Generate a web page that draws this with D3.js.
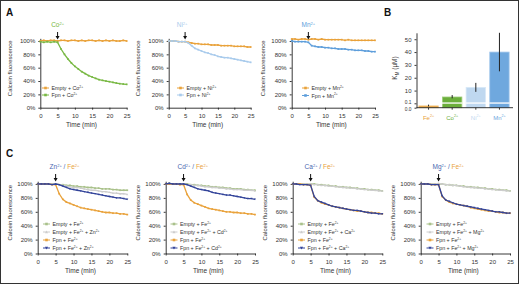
<!DOCTYPE html>
<html><head><meta charset="utf-8">
<script src="https://cdn.jsdelivr.net/npm/d3@7"></script>
<style>body{margin:0;background:#fff}svg{display:block}text{font-family:"Liberation Sans",Arial,sans-serif}</style>
</head><body><svg id="c" width="520" height="286"></svg>
<script>
// ---------- data ----------
const times = [0,1,2,3,4,5,6,7,8,9,10,11,12,13,14,15,16,17,18,19,20,21,22,23,24,25];
const xTicks = [0,5,10,15,20,25];
const yTicks = [0,20,40,60,80,100];

// Panel A
const emptyCo = [100,101,100,101,101,100,101,101,100,101,101,100,101,100,101,101,100,101,100,101,100,101,100,100,101,100];
const fpnCo   = [99,98,99,98,99,98,88,80,73,67,62,58,54,51,48,46,44,42,41,40,39,38,37,36,35.5,35];
const emptyNi = [100,100,100,99,99,99,98,97,96,96,95,95,95,94,94,94,93,93,93,93,92,92,92,92,91,91];
const fpnNi   = [100,100,100,99,99,99,97,93,89,87,85,83,82,80,79,77,76,75,75,74,73,72,71,70,69,68];
const emptyMn = [103,103,102,103,103,102,103,103,102,103,102,102,102,102,102,102,101,102,101,101,101,101,101,101,101,101];
const fpnMn   = [100,99,99,99,99,98,93,92,91,91,90,90,89,89,88,88,88,87,87,86,86,86,85,85,84,84];

// Panel B
const metals = ["Fe","Co","Ni","Mn"];
const km     = [0.04, 5, 12.5, 40];
const kmLo   = [0.03, 4, 9, 25];
const kmHi   = [0.07, 6.5, 16, 55];
const bTickVals = [0, 0.1, 10, 20, 30, 40, 50];
const bTickLabels = ["0.0","0.1","10","20","30","40","50"];

// Panel C
const c1Empty  = [100,100,100,100,100,100,99,99,98,98,97,97,96,96,95,95,94,94,93,93,93,92,92,91,91,91];
const c1EmptyX = [100,100,100,100,100,100,99,98,97,96,95,95,94,93,92,91,91,90,89,89,88,87,87,86,86,85];
const c1Fpn    = [100,100,100,100,99,99,86,78,74,72,70,68,66,65,64,63,62,61,60,59,59,58,58,57,57,56];
const c1FpnX   = [100,100,100,100,99,100,99,97,95,93,92,91,90,89,88,87,86,85,84,83,82,81,80,80,79,78];

const c2Empty  = [100,101,100,100,100,100,100,99,99,98,98,97,97,96,96,95,95,94,94,93,93,93,92,92,91,91];
const c2EmptyX = [100,100,100,100,100,100,99,99,98,98,97,96,96,95,95,94,94,93,93,92,92,92,91,91,91,90];
const c2Fpn    = [100,100,100,100,99,99,85,77,73,71,69,67,65,64,63,62,61,60,60,59,59,58,58,57,57,56];
const c2FpnX   = [100,101,100,100,100,100,99,97,95,93,92,91,90,88,87,86,85,84,84,83,82,81,80,79,79,78];

const c3Empty  = [100,100,100,100,100,100,100,99,99,98,98,97,97,96,96,95,95,94,94,93,93,92,92,91,91,90];
const c3EmptyX = [100,100,100,100,100,100,99,99,98,98,97,97,96,96,95,95,94,94,93,93,92,92,91,91,90,90];
const c3Fpn    = [100,100,100,99,99,98,81,76,73,71,70,68,67,66,65,64,63,62,61,61,60,59,59,58,58,57];
const c3FpnX   = [100,100,99,99,99,98,82,76,74,72,70,68,67,66,65,64,63,62,62,61,60,59,58,58,57,57];

const c4Empty  = [100,100,100,100,100,100,100,99,99,98,98,97,97,96,96,95,95,94,94,93,93,92,92,91,91,90];
const c4EmptyX = [100,100,100,100,100,101,100,99,99,98,98,97,96,96,95,95,94,94,93,93,92,92,91,91,90,90];
const c4Fpn    = [100,100,100,99,99,99,82,77,74,72,71,70,69,68,66,65,64,63,62,61,61,60,59,59,58,58];
const c4FpnX   = [100,100,100,99,99,99,83,77,75,73,71,70,69,68,67,66,65,64,63,62,61,60,60,59,58,58];

// ---------- colours ----------
const ORANGE = "#E9A23B", GREEN = "#78B843", LBLUE = "#A9CBEC", BLUE = "#5E9EDB",
      OLIVE = "#A9C18A", GRAY = "#CDCDCD", NAVY = "#33449A";

const svg = d3.select("#c");
svg.append("rect").attr("x",0.5).attr("y",0.5).attr("width",518).attr("height",283)
   .attr("fill","none").attr("stroke","#333").attr("stroke-width",1);

function rich(g, x, y, segs, size, anchor) {
  const t = g.append("text").attr("x",x).attr("y",y).attr("font-size",size)
     .attr("text-anchor",anchor||"start");
  segs.forEach(s => {
    const ts = t.append("tspan").text(s.t).attr("fill", s.color || "#222");
    if (s.sup) ts.attr("font-size", size*0.62).attr("dy", -size*0.38);
    else if (s.after) ts.attr("dy", size*0.38);
  });
  return t;
}
function lab(str, color) {
  const out = []; const parts = str.split("^");
  out.push({t:parts[0], color});
  for (let i=1;i<parts.length;i++) {
    const sp = parts[i].indexOf(" ");
    const sup = sp<0 ? parts[i] : parts[i].slice(0,sp);
    const rest = sp<0 ? "" : parts[i].slice(sp);
    out.push({t:sup, sup:true, color});
    if (rest) out.push({t:rest, after:true, color});
  }
  return out;
}
function marker(g, shape, x, y, color, s) {
  if (shape === "sq") g.append("rect").attr("x",x-s/2).attr("y",y-s/2).attr("width",s).attr("height",s).attr("fill",color);
  else if (shape === "tri") g.append("path").attr("d",`M${x},${y-s*0.6}L${x+s*0.6},${y+s*0.45}L${x-s*0.6},${y+s*0.45}Z`).attr("fill",color);
  else if (shape === "trid") g.append("path").attr("d",`M${x},${y+s*0.6}L${x+s*0.6},${y-s*0.45}L${x-s*0.6},${y-s*0.45}Z`).attr("fill",color);
}

function timePanel(c) {
  const g = svg.append("g");
  const k = (c.yB - c.yT) / 100;
  const x = d3.scaleLinear().domain([0,25]).range([c.x0, c.x1]);
  const y = d3.scaleLinear().domain([0,104]).range([c.yB, c.yB - 104*k]);
  const ya = g.append("g").attr("transform",`translate(${c.x0},0)`)
    .call(d3.axisLeft(y).tickValues(yTicks).tickFormat(d=>d+"%").tickSize(2).tickSizeOuter(0));
  const xa = g.append("g").attr("transform",`translate(0,${c.yB})`)
    .call(d3.axisBottom(x).tickValues(xTicks).tickSize(2).tickSizeOuter(0));
  [ya,xa].forEach(a => { a.selectAll("path,line").attr("stroke","#222").attr("stroke-width",0.9);
     a.selectAll("text").attr("font-size",6).attr("fill","#333").attr("font-family","Liberation Sans, Arial"); });
  xa.selectAll("text").attr("dy","0.9em");
  g.append("text").attr("x",(c.x0+c.x1)/2 - 2).attr("y",c.yB + 19.5).attr("text-anchor","middle")
    .attr("font-size",6.5).attr("fill","#333").text("Time (min)");
  g.append("text").attr("transform",`translate(${c.yLabX},${(c.yT+c.yB)/2 - 6}) rotate(-90)`)
    .attr("text-anchor","middle").attr("font-size",6).attr("fill","#333").text("Calcein fluorescence");
  const line = d3.line().x((d,i)=>x(times[i])).y(d=>y(d));
  c.series.forEach(s => {
    g.append("path").attr("d",line(s.v)).attr("fill","none").attr("stroke",s.color).attr("stroke-width",1.3);
    s.v.forEach((d,i)=>marker(g, s.m, x(times[i]), y(d), s.color, 1.7));
  });
  const ax = x(5);
  g.append("line").attr("x1",ax).attr("x2",ax).attr("y1",c.arrowY).attr("y2",c.arrowY+5).attr("stroke","#111").attr("stroke-width",1);
  g.append("path").attr("d",`M${ax-2},${c.arrowY+4}L${ax+2},${c.arrowY+4}L${ax},${c.arrowY+7.5}Z`).attr("fill","#111");
  rich(g, ax + c.ionDx, c.arrowY - 5, c.ion, 6.5, c.ionAnchor || "middle");
  c.series.forEach((s,i) => {
    const ly = c.legY[i];
    g.append("line").attr("x1",c.legX).attr("x2",c.legX+7).attr("y1",ly).attr("y2",ly).attr("stroke",s.color).attr("stroke-width",1);
    marker(g, s.m, c.legX+3.5, ly, s.color, 2.6);
    rich(g, c.legX+9.5, ly+2, lab(s.label,"#333"), 5.3);
  });
}

const aT = 41, aB = 107.7;
timePanel({x0:40.3,x1:126.7,yT:aT,yB:aB,yLabX:12,arrowY:32,ionDx:0,
  ion:lab("Co^2+",GREEN),
  series:[{v:emptyCo,color:ORANGE,m:"sq",label:"Empty + Co^2+"},{v:fpnCo,color:GREEN,m:"sq",label:"Fpn + Co^2+"}],
  legX:42,legY:[88,95]});
timePanel({x0:168.7,x1:250.7,yT:aT,yB:aB,yLabX:140,arrowY:32,ionDx:-3,
  ion:lab("Ni^2+",LBLUE),
  series:[{v:emptyNi,color:ORANGE,m:"sq",label:"Empty + Ni^2+"},{v:fpnNi,color:LBLUE,m:"sq",label:"Fpn + Ni^2+"}],
  legX:177,legY:[88,95]});
timePanel({x0:291.7,x1:375,yT:aT,yB:aB,yLabX:265,arrowY:32,ionDx:0,
  ion:lab("Mn^2+",BLUE),
  series:[{v:emptyMn,color:ORANGE,m:"sq",label:"Empty + Mn^2+"},{v:fpnMn,color:BLUE,m:"sq",label:"Fpn + Mn^2+"}],
  legX:302,legY:[88,95.5]});

const cT = 184, cB = 253.5;
const cPanels = [
  {x0:37.7,x1:127.3,ion:"Zn",data:[c1Empty,c1EmptyX,c1Fpn,c1FpnX],yLabX:12,legX:43},
  {x0:165.7,x1:255,ion:"Cd",data:[c2Empty,c2EmptyX,c2Fpn,c2FpnX],yLabX:140,legX:170.5},
  {x0:292.7,x1:382.3,ion:"Ca",data:[c3Empty,c3EmptyX,c3Fpn,c3FpnX],yLabX:267,legX:298},
  {x0:420.7,x1:510,ion:"Mg",data:[c4Empty,c4EmptyX,c4Fpn,c4FpnX],yLabX:395,legX:426.5}
];
cPanels.forEach(p => {
  timePanel({x0:p.x0,x1:p.x1,yT:cT,yB:cB,yLabX:p.yLabX,arrowY:174,ionDx:-6,ionAnchor:"start",
    ion:[{t:p.ion,color:"#4A67B0"},{t:"2+",sup:true,color:"#4A67B0"},{t:" / ",after:true,color:"#4A67B0"},
         {t:"Fe",color:ORANGE},{t:"2+",sup:true,color:ORANGE}],
    series:[{v:p.data[0],color:OLIVE,m:"sq",label:"Empty + Fe^2+"},
            {v:p.data[1],color:GRAY,m:"tri",label:"Empty + Fe^2+ + "+p.ion+"^2+"},
            {v:p.data[2],color:ORANGE,m:"sq",label:"Fpn + Fe^2+"},
            {v:p.data[3],color:NAVY,m:"trid",label:"Fpn + Fe^2+ + "+p.ion+"^2+"}],
    legX:p.legX,legY:[224,232,240,248]});
});

// ---------- Panel B ----------
(function(){
  const g = svg.append("g");
  const y = d3.scaleLinear().domain([0,0.1,55]).range([107.7,103.3,32.8]);
  const x = d3.scaleBand().domain(metals).range([416.5,511.5]).paddingInner(0.18).paddingOuter(0.1);
  const colors = [ORANGE,"#6BAE3B","#BFD8F0","#6FA8DE"];
  const edge = ["#F3C27A","#9CCB78","#D8E8F7","#A3C7EC"];
  metals.forEach((m,i) => {
    g.append("rect").attr("x",x(m)).attr("width",x.bandwidth()).attr("y",y(km[i])).attr("height",y(0)-y(km[i]))
      .attr("fill",colors[i]).attr("stroke",edge[i]).attr("stroke-width",0.8);
    if (km[i] > 0.1) g.append("rect").attr("x",x(m)-0.5).attr("width",x.bandwidth()+1).attr("y",y(0.1)-0.9).attr("height",1.3).attr("fill","#fff");
    const cx = x(m)+x.bandwidth()/2;
    g.append("line").attr("x1",cx).attr("x2",cx).attr("y1",y(kmLo[i])).attr("y2",y(kmHi[i])).attr("stroke","#222").attr("stroke-width",1);
  });
  const ya = g.append("g").attr("transform","translate(416.5,0)")
    .call(d3.axisLeft(y).tickValues(bTickVals).tickFormat((d,i)=>bTickLabels[i]).tickSize(2).tickSizeOuter(0));
  const xa = g.append("g").attr("transform","translate(0,107.7)")
    .call(d3.axisBottom(x).tickSize(2).tickSizeOuter(0).tickFormat(""));
  xa.select(".domain").attr("d","M416.5,0H513");
  [ya,xa].forEach(a => { a.selectAll("path,line").attr("stroke","#222").attr("stroke-width",0.9);
     a.selectAll("text").attr("font-size",6).attr("fill","#333").attr("font-family","Liberation Sans, Arial"); });
  // tight labels at the axis break
  ya.selectAll("text").filter(d => d === 0).attr("font-size",4.8).attr("dy","0.55em");
  ya.selectAll("text").filter(d => d === 0.1).attr("font-size",4.8).attr("dy","0.05em");
  const lc = [ORANGE,"#6BAE3B","#BFD8F0","#6FA8DE"];
  metals.forEach((m,i) => rich(g, x(m)+x.bandwidth()/2, 119.5, lab(m+"^2+", lc[i]), 6, "middle"));
  const t = g.append("text").attr("transform","translate(397,68) rotate(-90)").attr("text-anchor","middle")
    .attr("font-size",6.5).attr("fill","#333");
  t.append("tspan").text("K");
  t.append("tspan").text("M").attr("font-size",4.5).attr("dy",1.5);
  t.append("tspan").text(" (μM)").attr("dy",-1.5);
})();

[["A",6,16],["B",384,16],["C",6,157]].forEach(([s,x,y]) =>
  svg.append("text").attr("x",x).attr("y",y).attr("font-size",10).attr("font-weight","bold").attr("fill","#111").text(s));
</script></body></html>
